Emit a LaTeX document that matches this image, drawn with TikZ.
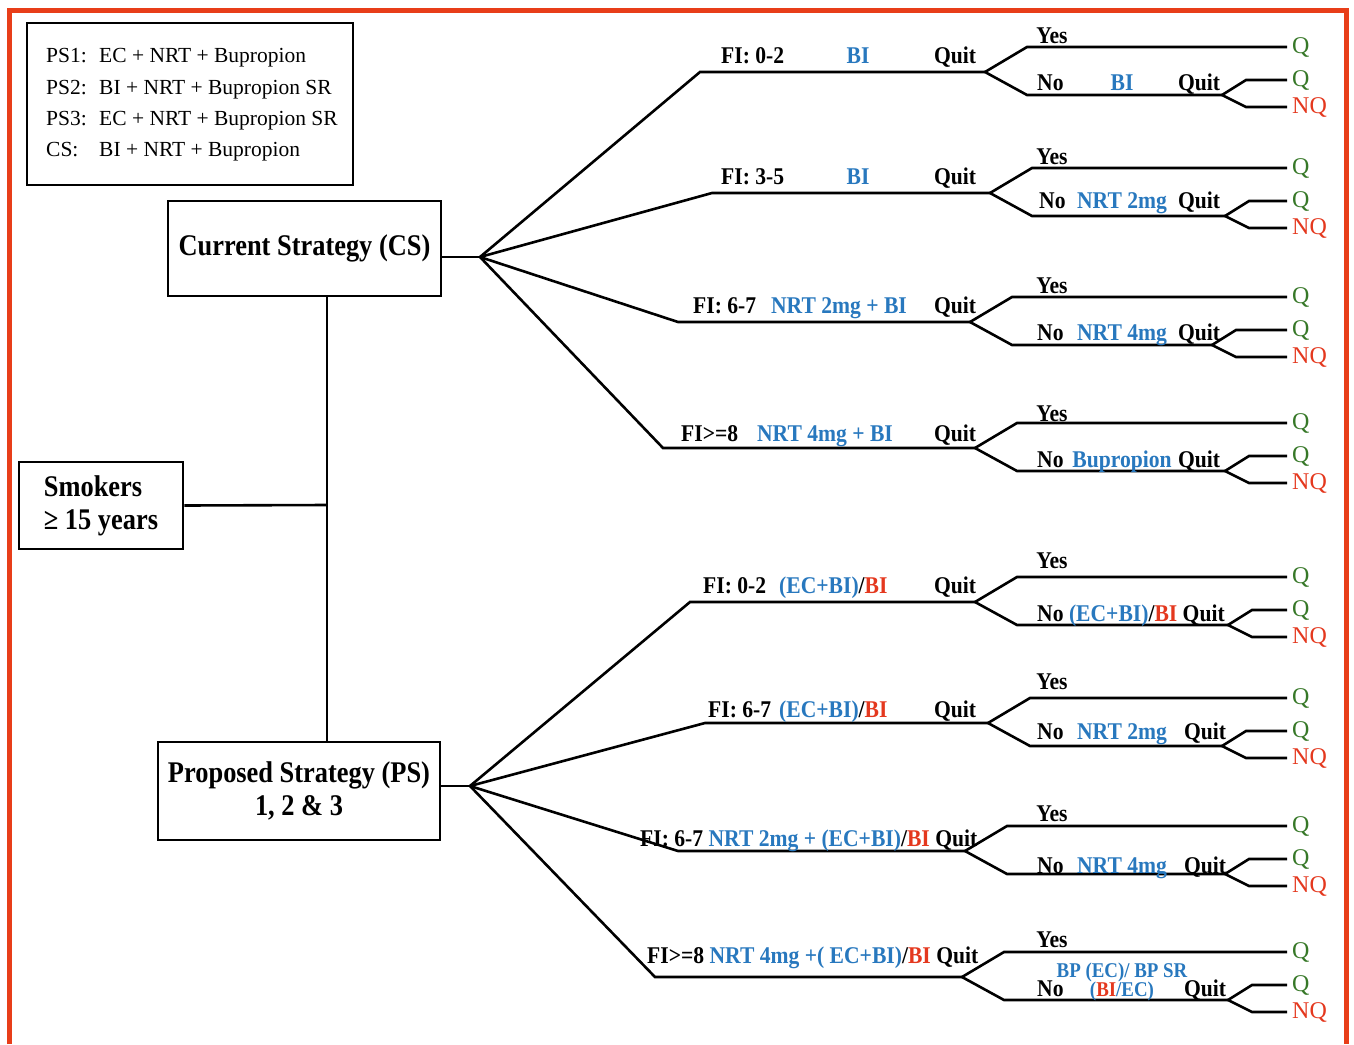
\documentclass[tikz,border=0pt]{standalone}
\usepackage{fontspec}
\setmainfont{Liberation Serif}
\newfontfamily\cond{Liberation Serif}[FakeStretch=0.88]
\newfontfamily\condb{Liberation Serif}[FakeStretch=0.9]
\usetikzlibrary{calc}
\definecolor{tblue}{RGB}{40,120,190}
\definecolor{tred}{RGB}{228,56,30}
\definecolor{tgreen}{RGB}{55,120,40}
\definecolor{framered}{RGB}{232,62,25}
\newcommand\Bl[1]{\textcolor{tblue}{#1}}
\newcommand\Rd[1]{\textcolor{tred}{#1}}
\tikzset{
  ln/.style={line width=2.6pt, line join=miter},
  box/.style={draw, line width=2.8pt, inner sep=0pt, font=\cond\bfseries\fontsize{30}{32}\selectfont},
  lab/.style={font=\condb\bfseries\fontsize{24}{26}\selectfont, inner sep=0pt},
  leg/.style={font=\fontsize{21.5}{24}\selectfont, inner sep=0pt, anchor=base west},
  qlab/.style={font=\fontsize{24}{26}\selectfont, text=tgreen, inner xsep=5pt, inner ysep=1pt, anchor=west},
  nqlab/.style={font=\fontsize{24}{26}\selectfont, text=tred, inner xsep=5pt, inner ysep=1pt, anchor=west},
}
% id, root, corner x, y, fork x, subfork x
\newcommand\twig[6]{%
  \coordinate (#1c) at (#3,#4);
  \coordinate (#1f) at (#5,#4);
  \coordinate (#1ys) at (#5+42,#4-25);
  \coordinate (#1ns) at (#5+42,#4+23);
  \coordinate (#1s) at (#6,#4+23);
  \coordinate (#1qs) at (#6+24,#4+8);
  \coordinate (#1nqs) at (#6+24,#4+35);
  \node[qlab] (#1y) at (1287,#4-25) {Q};
  \node[qlab] (#1q) at (1287,#4+8) {Q};
  \node[nqlab] (#1nq) at (1287,#4+35) {NQ};
  \draw[ln] (#2) -- (#1c) -- (#1f);
  \draw[ln] (#1y.west) -- (#1ys) -- (#1f) -- (#1ns) -- (#1s);
  \draw[ln] (#1q.west) -- (#1qs) -- (#1s) -- (#1nqs) -- (#1nq.west);
}
\begin{document}
\begin{tikzpicture}[x=1pt,y=-1pt]
\useasboundingbox (0,0) rectangle (1354,1044);
\draw[framered, line width=5pt, line join=miter] (9.5,1044) -- (9.5,10.5) -- (1346,10.5) -- (1346,1044);

% legend
\node[draw, line width=2.8pt, minimum width=326, minimum height=162, inner sep=0pt] (legend) at (190,104) {};
\node[leg] (l1a) at (46,62) {PS1:};
\node[leg] (l1b) at (99,62) {EC + NRT + Bupropion};
\node[leg] (l2a) at (46,94) {PS2:};
\node[leg] (l2b) at (99,94) {BI + NRT + Bupropion SR};
\node[leg] (l3a) at (46,125) {PS3:};
\node[leg] (l3b) at (99,125) {EC + NRT + Bupropion SR};
\node[leg] (l4a) at (46,156) {CS:};
\node[leg] (l4b) at (99,156) {BI + NRT + Bupropion};

% main boxes
\node[box, minimum width=273, minimum height=95] (cs) at (304.5,248.5) {Current Strategy (CS)};
\node[box, minimum width=164, minimum height=87, align=left] (sm) at (101,505.5) {Smokers\\[1pt]≥ 15 years};
\node[box, minimum width=282, minimum height=98, align=center] (ps) at (299,791) {Proposed Strategy (PS)\\[1pt]1, 2 \& 3};

\coordinate (trunk) at (327,505);
\draw[ln] (trunk |- cs.south) -- (trunk |- ps.north);
\draw[ln] (sm.east) -- (trunk);
\coordinate (csr) at (480,257);
\coordinate (psr) at (470,786);
\draw[ln] (cs.east |- csr) -- (csr);
\draw[ln] (ps.east |- psr) -- (psr);

% CS branches
\twig{a1}{csr}{700}{72}{985}{1222}
\twig{a2}{csr}{712}{193}{990}{1225}
\twig{a3}{csr}{678}{322}{970}{1212}
\twig{a4}{csr}{663}{448}{975}{1225}
% PS branches
\twig{b1}{psr}{690}{602}{975}{1228}
\twig{b2}{psr}{705}{723}{988}{1222}
\twig{b3}{psr}{678}{851}{965}{1225}
\twig{b4}{psr}{655}{977}{962}{1228}

% CS labels
\node[lab, anchor=base west] (a1fi) at (721,63) {FI: 0-2};
\node[lab, anchor=base, text=tblue] (a1tx) at (858,63) {BI};
\node[lab, anchor=base] (a1qt) at (955,63) {Quit};
\node[lab, anchor=base] (a1yes) at (1052,43) {Yes};
\node[lab, anchor=base west] (a1no) at (1037,90) {No};
\node[lab, anchor=base, text=tblue] (a1ntx) at (1122,90) {BI};
\node[lab, anchor=base] (a1nqt) at (1199,90) {Quit};

\node[lab, anchor=base west] (a2fi) at (721,184) {FI: 3-5};
\node[lab, anchor=base, text=tblue] (a2tx) at (858,184) {BI};
\node[lab, anchor=base] (a2qt) at (955,184) {Quit};
\node[lab, anchor=base] (a2yes) at (1052,164) {Yes};
\node[lab, anchor=base west] (a2no) at (1039,208) {No};
\node[lab, anchor=base, text=tblue] (a2ntx) at (1122,208) {NRT 2mg};
\node[lab, anchor=base] (a2nqt) at (1199,208) {Quit};

\node[lab, anchor=base west] (a3fi) at (693,313) {FI: 6-7};
\node[lab, anchor=base, text=tblue] (a3tx) at (839,313) {NRT 2mg + BI};
\node[lab, anchor=base] (a3qt) at (955,313) {Quit};
\node[lab, anchor=base] (a3yes) at (1052,293) {Yes};
\node[lab, anchor=base west] (a3no) at (1037,340) {No};
\node[lab, anchor=base, text=tblue] (a3ntx) at (1122,340) {NRT 4mg};
\node[lab, anchor=base] (a3nqt) at (1199,340) {Quit};

\node[lab, anchor=base west] (a4fi) at (681,441) {FI>=8};
\node[lab, anchor=base, text=tblue] (a4tx) at (825,441) {NRT 4mg + BI};
\node[lab, anchor=base] (a4qt) at (955,441) {Quit};
\node[lab, anchor=base] (a4yes) at (1052,421) {Yes};
\node[lab, anchor=base west] (a4no) at (1037,467) {No};
\node[lab, anchor=base, text=tblue] (a4ntx) at (1122,467) {Bupropion};
\node[lab, anchor=base] (a4nqt) at (1199,467) {Quit};

% PS labels
\node[lab, anchor=base west] (b1fi) at (703,593) {FI: 0-2};
\node[lab, anchor=base west] (b1tx) at (779,593) {\Bl{(EC+BI)}/\Rd{BI}};
\node[lab, anchor=base] (b1qt) at (955,593) {Quit};
\node[lab, anchor=base] (b1yes) at (1052,568) {Yes};
\node[lab, anchor=base west] (b1no) at (1037,621) {No \Bl{(EC+BI)}/\Rd{BI} Quit};

\node[lab, anchor=base west] (b2fi) at (708,717) {FI: 6-7};
\node[lab, anchor=base west] (b2tx) at (779,717) {\Bl{(EC+BI)}/\Rd{BI}};
\node[lab, anchor=base] (b2qt) at (955,717) {Quit};
\node[lab, anchor=base] (b2yes) at (1052,689) {Yes};
\node[lab, anchor=base west] (b2no) at (1037,739) {No};
\node[lab, anchor=base, text=tblue] (b2ntx) at (1122,739) {NRT 2mg};
\node[lab, anchor=base] (b2nqt) at (1205,739) {Quit};

\node[lab, anchor=base west] (b3fi) at (640,846) {FI: 6-7 \Bl{NRT 2mg + (EC+BI)}/\Rd{BI} Quit};
\node[lab, anchor=base] (b3yes) at (1052,821) {Yes};
\node[lab, anchor=base west] (b3no) at (1037,873) {No};
\node[lab, anchor=base, text=tblue] (b3ntx) at (1122,873) {NRT 4mg};
\node[lab, anchor=base] (b3nqt) at (1205,873) {Quit};

\node[lab, anchor=base west] (b4fi) at (647,963) {FI>=8 \Bl{NRT 4mg +( EC+BI)}/\Rd{BI} Quit};
\node[lab, anchor=base] (b4yes) at (1052,947) {Yes};
\node[lab, anchor=base, text=tblue, font=\condb\bfseries\fontsize{21}{23}\selectfont] (b4ntx1) at (1122,977) {BP (EC)/ BP SR};
\node[lab, anchor=base west] (b4no) at (1037,996) {No};
\node[lab, anchor=base, text=tblue, font=\condb\bfseries\fontsize{21}{23}\selectfont] (b4ntx2) at (1122,996) {(\Rd{BI}/EC)};
\node[lab, anchor=base] (b4nqt) at (1205,996) {Quit};
\end{tikzpicture}
\end{document}
